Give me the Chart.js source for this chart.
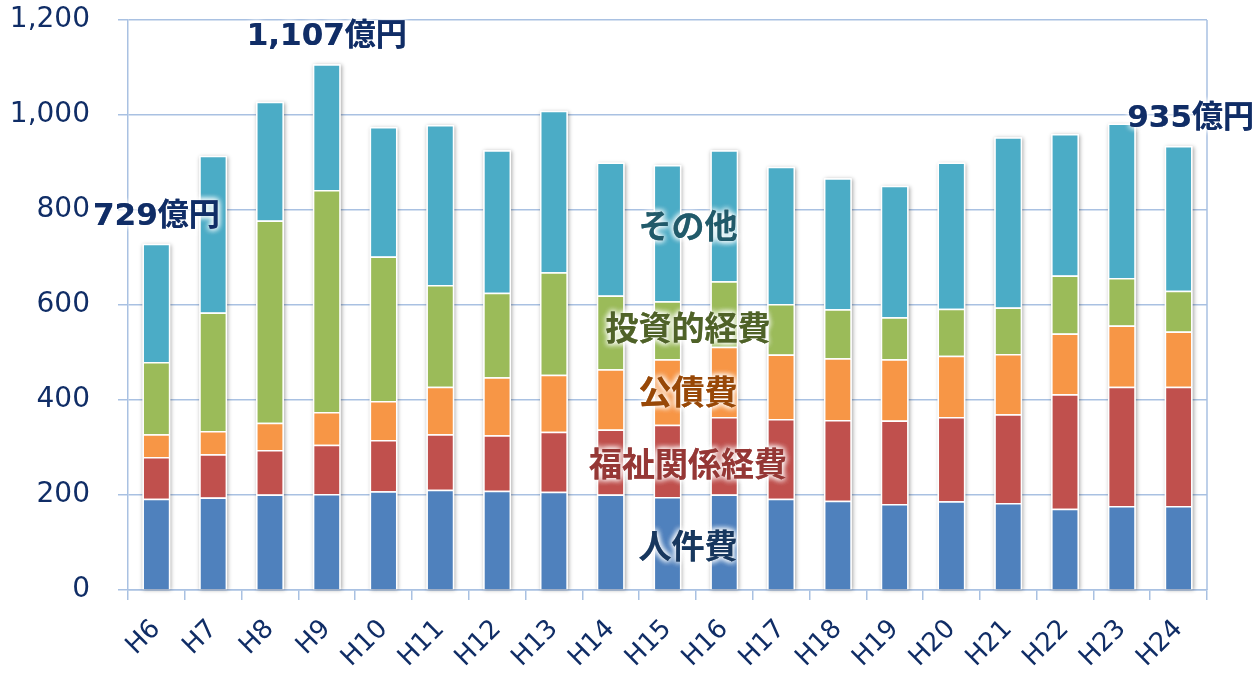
<!DOCTYPE html>
<html>
<head>
<meta charset="utf-8">
<script src="https://cdn.jsdelivr.net/npm/chart.js@4.4.1/dist/chart.umd.min.js"></script>
<style>
  html, body { margin: 0; padding: 0; background: #fff; }
  #wrap { width: 1256px; height: 675px; }
</style>
</head>
<body>
<div id="wrap"><canvas id="grafico"></canvas></div>
<script>
// 年度
const anos = ['H6','H7','H8','H9','H10','H11','H12','H13','H14','H15','H16','H17','H18','H19','H20','H21','H22','H23','H24'];

// 各経費（億円）
const jinkenhi  = [192,195,201,202,208,211,209,207,201,196,201,192,188,181,187,183,171,177,177];
const fukushi   = [ 88, 91, 94,104,108,117,117,126,137,152,163,168,170,176,177,187,241,251,251];
const kousaihi  = [ 48, 49, 57, 69, 82,100,122,120,127,138,148,136,130,129,129,127,128,129,116];
const toushi    = [152,249,426,467,304,214,178,216,155,122,138,106,103, 88, 99, 98,122,100, 86];
const sonota    = [249,330,250,265,273,337,300,340,280,287,276,289,276,277,308,358,298,325,305];

// 軸の目盛り
const ticksY = [0, 200, 400, 600, 800, 1000, 1200];

// 合計のラベル
const destaques = [
  { idx: 0,  texto: '729億円',   dx: 0 },
  { idx: 3,  texto: '1,107億円', dx: 0 },
  { idx: 18, texto: '935億円',   dx: 12 }
];

// 系列名のラベル
const nomesSeries = [
  { texto: 'その他',       valor: 768, cor: '#215a6a' },
  { texto: '投資的経費',   valor: 552, cor: '#4f6228' },
  { texto: '公債費',       valor: 419, cor: '#984807' },
  { texto: '福祉関係経費', valor: 267, cor: '#953735' },
  { texto: '人件費',       valor: 93,  cor: '#17375e' }
];

const corTexto = '#102d66';
const corGrade = '#a9c1e2';

function textoComBrilho(ctx, texto, x, y, cor) {
  ctx.save();
  ctx.shadowColor = 'rgba(255,255,255,1)';
  ctx.shadowBlur = 6;
  ctx.fillStyle = cor;
  for (let i = 0; i < 3; i++) ctx.fillText(texto, x, y);
  ctx.restore();
}

// sombra das barras
const sombraPlugin = {
  id: 'sombra',
  beforeDatasetsDraw(chart) {
    const ctx = chart.ctx;
    const metaBase = chart.getDatasetMeta(0);
    const metaTopo = chart.getDatasetMeta(chart.data.datasets.length - 1);
    ctx.save();
    ctx.shadowColor = 'rgba(0,0,0,0.35)';
    ctx.shadowBlur = 4;
    ctx.shadowOffsetX = 1;
    ctx.shadowOffsetY = 1;
    ctx.fillStyle = '#fff';
    metaBase.data.forEach((bar, i) => {
      const topo = metaTopo.data[i];
      const w = bar.width;
      ctx.fillRect(bar.x - w / 2, topo.y, w, bar.base - topo.y);
    });
    ctx.restore();
  }
};

// textos e borda direita
const textosPlugin = {
  id: 'textos',
  afterDatasetsDraw(chart) {
    const ctx = chart.ctx;
    const area = chart.chartArea;
    const x = chart.scales.x;
    const y = chart.scales.y;

    ctx.save();
    ctx.strokeStyle = corGrade;
    ctx.lineWidth = 1.5;
    ctx.beginPath();
    ctx.moveTo(area.right, area.top);
    ctx.lineTo(area.right, area.bottom);
    ctx.stroke();
    ctx.restore();

    ctx.save();
    ctx.textAlign = 'center';
    ctx.textBaseline = 'middle';
    ctx.font = 'bold 31px "DejaVu Sans", "Noto Sans CJK JP", sans-serif';
    destaques.forEach(d => {
      const total = jinkenhi[d.idx] + fukushi[d.idx] + kousaihi[d.idx] + toushi[d.idx] + sonota[d.idx];
      textoComBrilho(ctx, d.texto, x.getPixelForValue(d.idx) + d.dx, y.getPixelForValue(total) - 27, corTexto);
    });

    ctx.font = 'bold 33px "Noto Sans CJK JP", sans-serif';
    const cx = (x.getPixelForValue(9) + x.getPixelForValue(10)) / 2 - 8;
    nomesSeries.forEach(s => {
      textoComBrilho(ctx, s.texto, cx, y.getPixelForValue(s.valor), s.cor);
    });
    ctx.restore();
  }
};

function serie(label, dados, cor) {
  return {
    label: label,
    data: dados,
    backgroundColor: cor,
    borderColor: '#ffffff',
    borderWidth: 1.5,
    barPercentage: 0.49,
    categoryPercentage: 1
  };
}

new Chart(document.getElementById('grafico'), {
  type: 'bar',
  data: {
    labels: anos,
    datasets: [
      serie('人件費', jinkenhi, '#4f81bd'),
      serie('福祉関係経費', fukushi, '#c0504d'),
      serie('公債費', kousaihi, '#f79646'),
      serie('投資的経費', toushi, '#9bbb59'),
      serie('その他', sonota, '#4bacc6')
    ]
  },
  options: {
    responsive: true,
    maintainAspectRatio: false,
    animation: false,
    layout: { padding: { top: 20, right: 49, left: 0, bottom: 0 } },
    plugins: {
      legend: { display: false },
      tooltip: { enabled: false }
    },
    scales: {
      x: {
        stacked: true,
        afterFit(scale) { scale.height = 85; },
        grid: {
          offset: true,
          drawOnChartArea: false,
          drawTicks: true,
          tickLength: 10,
          color: corGrade,
          lineWidth: 1.5
        },
        border: { color: corGrade, width: 1.5 },
        ticks: {
          color: corTexto,
          font: { family: '"DejaVu Sans", Verdana, sans-serif', size: 26 },
          minRotation: 45,
          maxRotation: 45,
          padding: 14,
          autoSkip: false
        }
      },
      y: {
        stacked: true,
        min: 0,
        max: 1200,
        afterFit(scale) {
          scale.width = 128;
          scale.paddingTop = 17;
          scale.paddingBottom = 17;
        },
        afterBuildTicks(scale) { scale.ticks = ticksY.map(v => ({ value: v })); },
        grid: {
          color: corGrade,
          lineWidth: 1.5,
          tickLength: 10
        },
        border: { color: corGrade, width: 1.5 },
        ticks: {
          color: corTexto,
          font: { family: '"DejaVu Sans", Verdana, sans-serif', size: 28 },
          padding: 28,
          callback: v => v.toLocaleString('en-US')
        }
      }
    }
  },
  plugins: [sombraPlugin, textosPlugin]
});
</script>
</body>
</html>
